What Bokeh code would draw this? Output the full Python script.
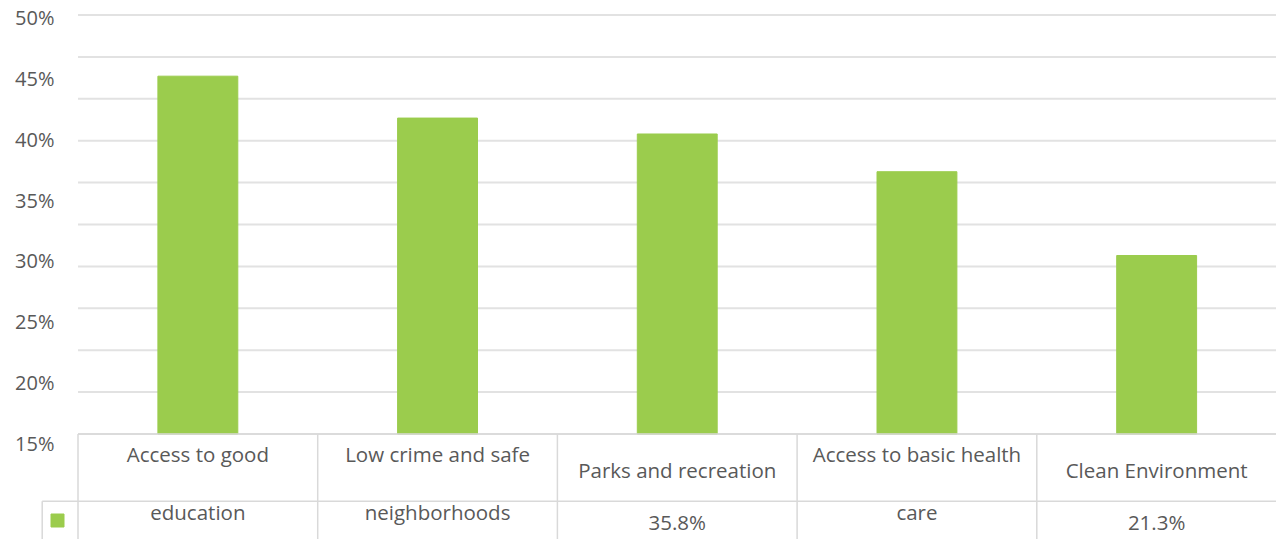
import textwrap
from bokeh.plotting import figure
from bokeh.models import Range1d
from bokeh.core.properties import value
from bokeh.embed import file_html
from bokeh.resources import INLINE

# ---- data ----
categories = [
    "Access to good education",
    "Low crime and safe neighborhoods",
    "Parks and recreation",
    "Access to basic health care",
    "Clean Environment",
]
values = [42.7, 37.7, 35.8, 31.3, 21.3]
tick_values = [15, 20, 25, 30, 35, 40, 45, 50]
tick_labels = ["15%", "20%", "25%", "30%", "35%", "40%", "45%", "50%"]
grid_values = [0, 5, 10, 15, 20, 25, 30, 35, 40, 45, 50]

# ---- styles / layout ----
GREEN = "#9BCC4D"
TEXT = "#595959"
GRID = "#E2E2E2"
TABLE = "#D9D9D9"
FONT = value("Open Sans")
FS = "20px"
FS_T = "20.5px"

W, H = 1276, 539
col_px = 239.7          # width of one category column
x_org = 77.5            # page x of category 0 left edge
y_org = 433.5           # page y of value 0
ppu = 8.38              # px per value unit
lpp = 60.86 / 5         # px per unit of the (misaligned) label scale

x_range = Range1d(-x_org / col_px, (W - x_org) / col_px)
y_range = Range1d(-(H - y_org) / ppu, y_org / ppu)

p = figure(width=W, height=H, x_range=x_range, y_range=y_range,
           output_backend="svg", toolbar_location=None,
           x_axis_location=None, y_axis_location=None, min_border=0)
p.extra_y_ranges = {"labels": Range1d(15 - (H - 443) / lpp, 50 + 17 / lpp)}
p.outline_line_color = None
p.grid.grid_line_color = None
p.background_fill_color = "white"
p.border_fill_color = "white"

n = len(categories)
xs = [i + 0.5 for i in range(n)]
ymin = y_range.start

# gridlines
p.segment(x0=0, x1=n, y0=grid_values, y1=grid_values, line_color=GRID, line_width=2)

# bars
p.vbar(x=xs, top=values, bottom=0, width=1 / 3, fill_color=GREEN, line_color=GREEN)

# y tick labels (misaligned label scale as in the original)
p.text(x=(54 - x_org) / col_px, y=tick_values, text=tick_labels, y_range_name="labels",
       text_font=FONT, text_font_size=FS, text_color=TEXT,
       text_align="right", text_baseline="middle")

# data table
mid = -(500.7 - y_org) / ppu
leg_x = (41.7 - x_org) / col_px
p.segment(x0=0, x1=n, y0=0, y1=0, line_color=TABLE, line_width=1.5)
p.segment(x0=list(range(n)), x1=list(range(n)), y0=0, y1=ymin, line_color=TABLE, line_width=1.5)
p.segment(x0=leg_x, x1=n, y0=mid, y1=mid, line_color=TABLE, line_width=1.5)
p.segment(x0=leg_x, x1=leg_x, y0=mid, y1=ymin, line_color=TABLE, line_width=1.5)
p.scatter(x=[(57 - x_org) / col_px], y=[-(520 - y_org) / ppu], marker="square",
          size=13, fill_color=GREEN, line_color=GREEN)

top_x, top_y, top_t = [], [], []
bot_x, bot_y, bot_t = [], [], []
for i, (c, v) in enumerate(zip(categories, values)):
    lines = textwrap.wrap(c, 22)
    top_x.append(xs[i]); top_t.append(lines[0])
    bot_x.append(xs[i])
    if len(lines) > 1:
        top_y.append(-(453.5 - y_org) / ppu)
        bot_t.append(lines[1]); bot_y.append(-(511.5 - y_org) / ppu)
    else:
        top_y.append(-(469 - y_org) / ppu)
        bot_t.append(f"{v:.1f}%"); bot_y.append(-(521 - y_org) / ppu)

p.text(x=top_x, y=top_y, text=top_t, text_font=FONT, text_font_size=FS_T,
       text_color=TEXT, text_align="center", text_baseline="middle")
p.text(x=bot_x, y=bot_y, text=bot_t, text_font=FONT, text_font_size=FS_T,
       text_color=TEXT, text_align="center", text_baseline="middle")

open("out.html", "w").write(file_html(p, INLINE))
